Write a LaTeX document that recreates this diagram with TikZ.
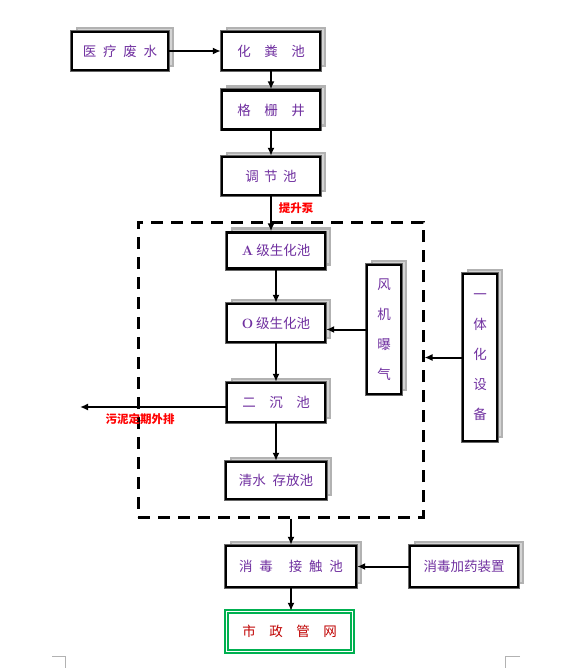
\documentclass[tikz,border=0pt]{standalone}
\usepackage{fontspec}
\usepackage{xcolor}
\usepackage{tikz}
\usetikzlibrary{positioning,calc,arrows.meta,shadows}
\newfontfamily\cjk{Noto Sans CJK SC}
\definecolor{txtpurple}{RGB}{112,48,160}
\definecolor{lblred}{RGB}{255,0,0}
\definecolor{darkred}{RGB}{192,0,0}
\definecolor{netgreen}{RGB}{0,176,80}

\begin{document}
\begin{tikzpicture}[x=1pt, y=-1pt,
  box/.style={general shadow={fill=black!17, draw=black!30, shadow xshift=5pt, shadow yshift=4pt},
    preaction={draw=black!60, line width=4pt},
    draw=black, line width=2.4pt, fill=white, inner sep=0pt,
    text=txtpurple, font=\cjk\fontsize{13.5}{15}\selectfont},
  vbox/.style={box, align=center, font=\cjk\fontsize{13.5}{30}\selectfont},
  arr/.style={line width=2pt, -{Latex[length=8pt,width=7pt]}},
  lbl/.style={text=lblred, font=\cjk\bfseries\fontsize{11.5}{13}\selectfont, inner sep=0pt}]
  \useasboundingbox (0,0) rectangle (580,668);

  % main line
  \node[box, minimum width=96pt, minimum height=38pt] (ylfs) at (120,51) {医\hspace{.5em}疗\hspace{.5em}废\hspace{.5em}水};
  \node[box, minimum width=98pt, minimum height=38pt] (hfc) at (271,51) {化\hspace{1em}粪\hspace{1em}池};
  \node[box, minimum width=98pt, minimum height=39pt] (gsj) at (271,110) {格\hspace{1em}栅\hspace{1em}井};
  \node[box, minimum width=98pt, minimum height=38pt] (tjc) at (271,176) {调\hspace{.4em}节\hspace{.4em}池};

  % integrated unit (dashed)
  \node[draw, line width=3pt, dash pattern=on 12pt off 8pt, minimum width=285pt, minimum height=295pt, inner sep=0pt] (frame) at (280.5,369.5) {};
  \node[box, minimum width=98pt, minimum height=36pt] (ajc) at (276,250.5) {{\rmfamily\bfseries A} 级生化池};
  \node[box, minimum width=98pt, minimum height=38pt] (ojc) at (276,323) {{\rmfamily\bfseries O} 级生化池};
  \node[box, minimum width=98pt, minimum height=39pt] (ecc) at (276,402.5) {二\hspace{1em}沉\hspace{1em}池};
  \node[box, minimum width=100pt, minimum height=37pt] (qscfc) at (276,480.5) {清水\hspace{.5em}存放池};
  \node[vbox, minimum width=34pt, minimum height=129pt] (fjbq) at (384,329.5) {风\\机\\曝\\气};
  \node[vbox, minimum width=34pt, minimum height=167pt] (ytsb) at (480,357.5) {一\\体\\化\\设\\备};

  % disinfection
  \node[box, minimum width=130pt, minimum height=41pt] (xdjc) at (291,566.5) {消\hspace{.5em}毒\hspace{1.2em}接\hspace{.5em}触\hspace{.5em}池};
  \node[box, minimum width=108pt, minimum height=41pt] (jyzz) at (464,566.5) {消毒加药装置};
  \node[draw=netgreen, double=white, double distance=1.6pt, line width=1.3pt, fill=white, minimum width=126pt, minimum height=40pt,
        text=darkred, font=\cjk\fontsize{13.5}{15}\selectfont] (szgw) at (289.5,631.5) {市\hspace{1em}政\hspace{1em}管\hspace{1em}网};

  % arrows
  \draw[arr] (ylfs) -- (hfc);
  \draw[arr] (hfc) -- (gsj);
  \draw[arr] (gsj) -- (tjc);
  \draw[arr] (tjc.south) -- (tjc.south |- ajc.north);
  \node[lbl] (tsb) at (296,208) {提升泵};
  \draw[arr] (ajc) -- (ojc);
  \draw[arr] (ojc) -- (ecc);
  \draw[arr] (ecc) -- (qscfc);
  \draw[arr] (fjbq.west) -- (fjbq.west -| ojc.east);
  \draw[arr] (ytsb.west) -- (ytsb.west -| frame.east);
  \coordinate (wnout) at (80,407);
  \draw[arr] (ecc.west |- wnout) -- (wnout);
  \node[lbl] (wndq) at (140,419) {污泥定期外排};
  \draw[arr] (xdjc.north |- frame.south) -- (xdjc.north);
  \draw[arr] (jyzz) -- (xdjc);
  \draw[arr] (xdjc.south) -- (xdjc.south |- szgw.north);

  % page corner marks
  \draw[black!30, line width=0.8pt] (52,656) -- (65,656) -- (65,668);
  \draw[black!30, line width=0.8pt] (520,656) -- (505,656) -- (505,668);
\end{tikzpicture}
\end{document}
